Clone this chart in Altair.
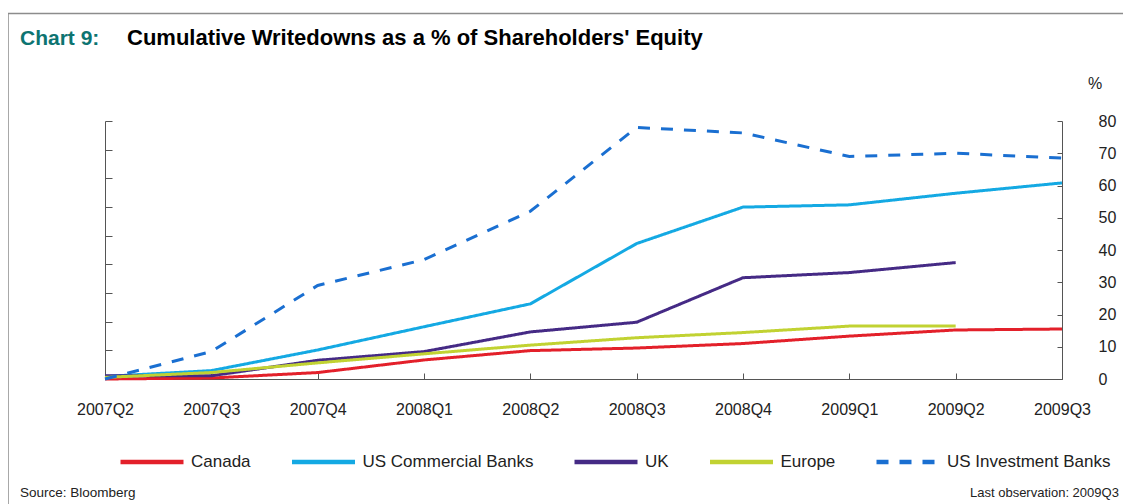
import altair as alt
import pandas as pd

quarters = ["2007Q2", "2007Q3", "2007Q4", "2008Q1", "2008Q2",
            "2008Q3", "2008Q4", "2009Q1", "2009Q2", "2009Q3"]
series_names = ["Canada", "US Commercial Banks", "UK", "Europe", "US Investment Banks"]
canada = [0.0, 0.3, 2.0, 5.9, 8.8, 9.6, 11.0, 13.3, 15.2, 15.5]
us_commercial = [0.8, 2.6, 9.0, 16.2, 23.3, 42.0, 53.3, 54.0, 57.6, 60.8]
uk = [1.0, 1.0, 5.8, 8.5, 14.6, 17.6, 31.4, 33.0, 36.1, None]
europe = [0.5, 2.0, 5.0, 7.8, 10.5, 12.8, 14.4, 16.4, 16.4, None]
us_investment = [0.0, 8.5, 29.0, 37.0, 52.0, 78.0, 76.3, 69.0, 70.0, 68.5]

right_ticks = [0, 10, 20, 30, 40, 50, 60, 70, 80]
left_ticks = [i * 80 / 9 for i in range(10)]

colors = ["#E3202A", "#14A9E3", "#452A85", "#C1D232", "#1A6FD1"]
dashes = [[1, 0], [1, 0], [1, 0], [1, 0], [12, 11]]

title_lead = "Chart 9:"
title_main = "Cumulative Writedowns as a % of Shareholders' Equity"
unit_label = "%"
source_text = "Source: Bloomberg"
last_obs_text = "Last observation: 2009Q3"

rows = []
for name, vals in zip(series_names, [canada, us_commercial, uk, europe, us_investment]):
    for q, v in zip(quarters, vals):
        if v is not None:
            rows.append({"quarter": q, "series": name, "value": v})
df = pd.DataFrame(rows)

FONT = "Liberation Sans"

x_enc = alt.X(
    "quarter:O", sort=quarters, title=None,
    scale=alt.Scale(type="point", padding=0),
    axis=alt.Axis(labelAngle=0, labelFontSize=16, labelColor="#222222",
                  tickSize=alt.ExprRef("-6"), labelPadding=28,
                  domainColor="#555555", tickColor="#555555", grid=False,
                  labelFont=FONT),
)
y_scale = alt.Scale(domain=[0, 80], nice=False, zero=True)

legend = alt.Legend(
    orient="none", legendX=13, legendY=307, direction="horizontal", title=None,
    symbolType="stroke", symbolSize=3969, symbolStrokeWidth=4.5,
    labelFontSize=17, labelFont=FONT, labelColor="#222222", labelOffset=5,
    labelLimit=400, columnPadding=31.5, padding=0,
)

lines = alt.Chart(df).mark_line(strokeWidth=3).encode(
    x=x_enc,
    y=alt.Y("value:Q", scale=y_scale, title=None,
            axis=alt.Axis(orient="right", values=right_ticks, labelFontSize=16,
                          labelFont=FONT, labelColor="#222222",
                          tickSize=alt.ExprRef("-5"), labelPadding=41,
                          domainColor="#555555", tickColor="#555555", grid=False)),
    color=alt.Color("series:N", scale=alt.Scale(domain=series_names, range=colors),
                    legend=legend),
    strokeDash=alt.StrokeDash("series:N", scale=alt.Scale(domain=series_names, range=dashes),
                              legend=legend),
    order=alt.Order("series:N"),
)

left_axis = alt.Chart(df).mark_line(opacity=0).encode(
    x=x_enc,
    y=alt.Y("value:Q", scale=y_scale, title=None,
            axis=alt.Axis(orient="left", values=left_ticks, labels=False,
                          tickSize=alt.ExprRef("-7"), domainColor="#555555",
                          tickColor="#555555", grid=False)),
    detail="series:N",
)

one = pd.DataFrame({"k": [0]})

def label(text, x, y, size, color="#000000", weight="normal", align="left"):
    return alt.Chart(one).mark_text(
        text=text, fontSize=size, font=FONT, fontWeight=weight, color=color,
        align=align, baseline="alphabetic",
    ).encode(x=alt.value(x), y=alt.value(y))

texts = [
    label(title_lead, -85, -76, 21, color="#0D7471", weight="bold"),
    label(title_main, 22, -76, 22, weight="bold"),
    label(unit_label, 983, -32, 16, color="#222222"),
    label(source_text, -85, 376, 13.5, color="#222222"),
    label(last_obs_text, 865, 376, 13, color="#222222"),
]

frame = alt.Chart(one).mark_rect(fill="transparent", stroke="#8C8C8C", strokeWidth=1.5).encode(
    x=alt.value(-97), x2=alt.value(1200), y=alt.value(-107.5), y2=alt.value(600)
)

chart = alt.layer(frame, left_axis, lines, *texts).resolve_axis(y="independent").properties(
    width=957, height=258,
    padding={"left": 97, "top": 113, "right": 61, "bottom": 125},
    autosize=alt.AutoSizeParams(type="none"),
    background="white",
).configure_view(stroke="transparent")

chart.save("out.html", embed_options={"renderer": "svg", "actions": False})
